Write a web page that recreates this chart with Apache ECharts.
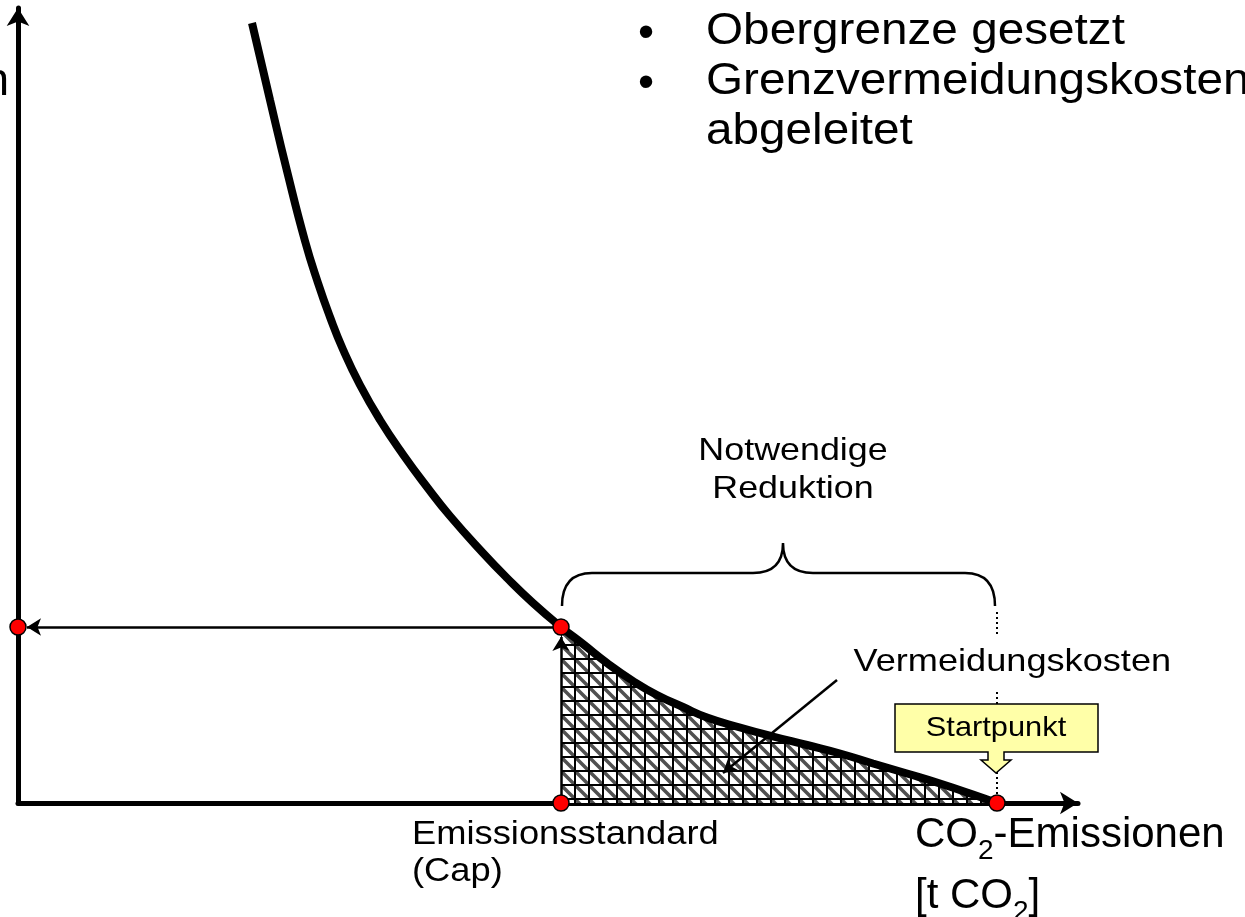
<!DOCTYPE html>
<html>
<head>
<meta charset="utf-8">
<script src="https://cdn.jsdelivr.net/npm/echarts@6/dist/echarts.min.js"></script>
<style>
  html, body { margin: 0; padding: 0; background: #fff; }
  #main { width: 1245px; height: 917px; }
</style>
</head>
<body>
<div id="main"></div>
<script>
// Grenzvermeidungskosten-Kurve (abstrakte Einheiten)
var curveX = [23.4, 25.2, 26.9, 28.7, 30.0, 31.2, 32.5, 34.2, 36.2, 38.5, 40.9, 43.2, 46.5, 48.9, 51.5,
    54.3, 56.5, 58.9, 61.5, 63.9, 66.5, 68.9, 72.2, 75.5, 78.9, 82.2, 85.5, 88.9, 92.2, 95.5, 97.9];
var curveY = [78.0, 70.3, 63.2, 56.2, 52.0, 48.6, 45.35, 41.8, 38.3, 34.85, 31.6, 28.7, 25.0, 22.5, 20.0,
    17.6, 15.9, 14.0, 12.2, 10.8, 9.6, 8.55, 7.55, 6.65, 5.8, 4.95, 3.95, 2.95, 1.95, 0.85, 0];

// Cap und Startpunkt
var capX = 54.3;
var capY = 17.6;
var startX = 97.9;

// geschweifte Klammer "Notwendige Reduktion": [links, rechts, spitze], [enden, gerade, spitze]
var braceX = [54.4, 97.7, 76.5];
var braceY = [19.7, 23.0, 26.0];

var font = 'Liberation Sans, Arial, sans-serif';

var curve = [];
var capArea = [];
for (var i = 0; i < curveX.length; i++) {
    curve.push([curveX[i], curveY[i]]);
    if (curveX[i] >= capX) {
        capArea.push([curveX[i], curveY[i]]);
    }
}

// Schraffur wie im Original: Gitter + Diagonale
var pat = document.createElement('canvas');
pat.width = 14;
pat.height = 14;
var ctx = pat.getContext('2d');
ctx.fillStyle = '#fff';
ctx.fillRect(0, 0, 14, 14);
ctx.strokeStyle = '#505050';
ctx.lineWidth = 3.5;
[-14, 0, 14].forEach(function (k) {
    ctx.beginPath();
    ctx.moveTo(k, 0);
    ctx.lineTo(k + 14, 14);
    ctx.stroke();
});
ctx.fillStyle = '#000';
ctx.fillRect(0, 0, 14, 2);
ctx.fillRect(0, 0, 2, 14);

function txt(text, x, y, size, opt) {
    opt = opt || {};
    return {
        type: 'text',
        x: x,
        y: y,
        z: 50,
        scaleX: opt.scaleX || 1,
        style: {
            text: text,
            fontSize: size,
            fontFamily: font,
            fill: '#000',
            align: opt.align || 'left',
            textAlign: opt.align || 'left',
            verticalAlign: 'middle',
            textVerticalAlign: 'middle',
            backgroundColor: opt.bg,
            padding: opt.padding
        }
    };
}

function co2(prefix, suffix, x, y) {
    return {
        type: 'text',
        x: x,
        y: y,
        z: 50,
        style: {
            text: '{n|' + prefix + '}{s|2}{n|' + suffix + '}',
            align: 'left',
            textAlign: 'left',
            verticalAlign: 'top',
            textVerticalAlign: 'top',
            fill: '#000',
            rich: {
                n: { fontSize: 42, lineHeight: 42, height: 42, verticalAlign: 'top', fontFamily: font, fill: '#000' },
                s: { fontSize: 28, lineHeight: 10, height: 10, verticalAlign: 'bottom', fontFamily: font, fill: '#000' }
            }
        }
    };
}

var myChart = echarts.init(document.getElementById('main'));
var options = {
    animation: false,
    backgroundColor: '#fff',
    grid: { left: 18, right: 167, top: 8, bottom: 114 },
    xAxis: {
        type: 'value',
        min: 0,
        max: 106,
        axisLine: {
            lineStyle: { color: '#000', width: 5 },
            symbol: ['none', 'arrow'],
            symbolSize: [17, 18]
        },
        axisTick: { show: false },
        axisLabel: { show: false },
        splitLine: { show: false }
    },
    yAxis: {
        type: 'value',
        min: 0,
        max: 79.5,
        axisLine: {
            lineStyle: { color: '#000', width: 5 },
            symbol: ['none', 'arrow'],
            symbolSize: [17, 18]
        },
        axisTick: { show: false },
        axisLabel: { show: false },
        splitLine: { show: false }
    },
    series: [
        {
            // Vermeidungskosten (schraffierte Flaeche)
            type: 'line',
            data: capArea,
            smooth: 0.5,
            symbol: 'none',
            lineStyle: { width: 0 },
            areaStyle: { color: { image: pat, repeat: 'repeat' }, opacity: 1 },
            silent: true,
            z: 1
        },
        {
            // Hilfslinien
            type: 'line',
            data: [],
            z: 2,
            markLine: {
                silent: true,
                label: { show: false },
                symbolSize: [13, 14],
                lineStyle: { color: '#000', width: 2.5, type: 'solid' },
                data: [
                    [{ coord: [capX, capY], symbol: 'none' }, { coord: [0.9, capY], symbol: 'arrow' }],
                    [{ coord: [capX, 0], symbol: 'none' }, { coord: [capX, 16.6], symbol: 'arrow' }],
                    [{ coord: [81.9, 12.3], symbol: 'none' }, { coord: [70.5, 3.0], symbol: 'arrow' }],
                    [{ coord: [startX, 19.1], symbol: 'none', lineStyle: { type: [2, 3], width: 2 } }, { coord: [startX, 0.5], symbol: 'none' }]
                ]
            }
        },
        {
            type: 'custom',
            z: 2,
            silent: true,
            encode: { x: [0, 1, 2], y: [3, 4, 5] },
            data: [[braceX[0], braceX[1], braceX[2], braceY[0], braceY[1], braceY[2]]],
            renderItem: function (params, api) {
                var a = api.coord([api.value(0), api.value(3)]);
                var b = api.coord([api.value(1), api.value(3)]);
                var f = api.coord([api.value(2), api.value(4)]);
                var t = api.coord([api.value(2), api.value(5)]);
                var fy = f[1];
                var r = 30;
                var d = 'M' + a[0] + ' ' + a[1] +
                    ' Q' + a[0] + ' ' + fy + ' ' + (a[0] + r) + ' ' + fy +
                    ' L' + (t[0] - r) + ' ' + fy +
                    ' Q' + t[0] + ' ' + fy + ' ' + t[0] + ' ' + t[1] +
                    ' Q' + t[0] + ' ' + fy + ' ' + (t[0] + r) + ' ' + fy +
                    ' L' + (b[0] - r) + ' ' + fy +
                    ' Q' + b[0] + ' ' + fy + ' ' + b[0] + ' ' + b[1];
                return {
                    type: 'path',
                    shape: { pathData: d },
                    style: { fill: 'none', stroke: '#000', lineWidth: 2.5 }
                };
            }
        },
        {
            // Grenzvermeidungskosten
            type: 'line',
            data: curve,
            smooth: 0.5,
            symbol: 'none',
            lineStyle: { color: '#000', width: 8 },
            silent: true,
            z: 3
        },
        {
            type: 'scatter',
            data: [[0, capY], [capX, capY], [capX, 0], [startX, 0]],
            symbolSize: 16,
            itemStyle: { color: '#ff0000', borderColor: '#000', borderWidth: 1.5, opacity: 1 },
            silent: true,
            z: 10
        }
    ],
    graphic: [
        txt('Kosten', 9, 82, 46, { align: 'right' }),
        txt('\u2022', 638, 34, 46),
        txt('Obergrenze gesetzt', 706, 32, 45, { scaleX: 1.06 }),
        txt('\u2022', 638, 84, 46),
        txt('Grenzvermeidungskosten', 706, 82, 45, { scaleX: 1.06 }),
        txt('abgeleitet', 706, 132, 45, { scaleX: 1.06 }),
        txt('Notwendige', 793, 451, 32, { align: 'center', scaleX: 1.12 }),
        txt('Reduktion', 793, 489, 32, { align: 'center', scaleX: 1.12 }),
        txt('Vermeidungskosten', 849, 662, 32, { scaleX: 1.13, bg: '#fff', padding: [12, 4] }),
        {
            type: 'polygon',
            z: 40,
            shape: {
                points: [[895, 704], [1098, 704], [1098, 752], [1004, 752], [1004, 760], [1011, 760],
                    [996, 773], [981, 760], [988, 760], [988, 752], [895, 752]]
            },
            style: { fill: '#ffffa8', stroke: '#000', lineWidth: 1.5 }
        },
        txt('Startpunkt', 996, 728, 28, { align: 'center', scaleX: 1.1 }),
        txt('Emissionsstandard', 412, 835, 33, { scaleX: 1.1 }),
        txt('(Cap)', 412, 872, 33, { scaleX: 1.1 }),
        co2('CO', '-Emissionen', 915, 814),
        co2('[t CO', ']', 915, 875)
    ]
};
myChart.setOption(options, true);
</script>
</body>
</html>
